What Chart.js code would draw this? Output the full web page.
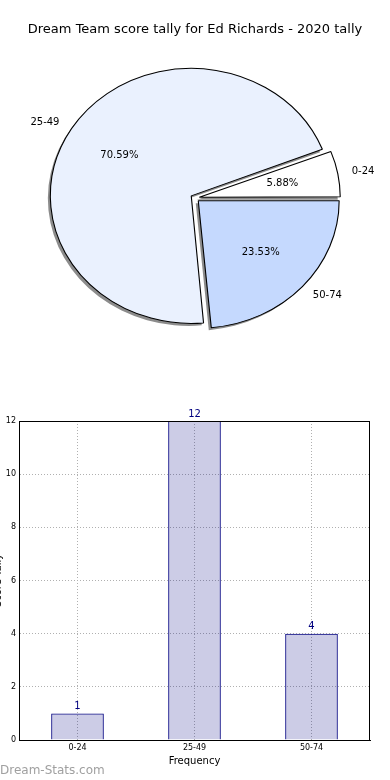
<!DOCTYPE html>
<html>
<head>
<meta charset="utf-8">
<script src="https://cdn.jsdelivr.net/npm/chart.js@4.4.1/dist/chart.umd.min.js"></script>
<style>
body { margin: 0; background: #fff; }
#wrap { position: relative; width: 390px; height: 780px; }
canvas { display: block; }
#marca { position: absolute; left: 0; top: 763px; font: 12px 'DejaVu Sans'; color: #a0a0a0; }
</style>
</head>
<body>
<div id="wrap">
  <canvas id="pizza" width="390" height="390"></canvas>
  <canvas id="barras" width="390" height="390"></canvas>
  <div id="marca">Dream-Stats.com</div>
</div>
<script>
// Dados do gráfico
const faixas = ['0-24', '25-49', '50-74'];
const contagens = [1, 12, 4];
const coresPizza = ['#ffffff', '#eaf1fe', '#c5d9fe'];
const ticksY = [0, 2, 4, 6, 8, 10, 12];

const total = contagens.reduce((a, b) => a + b, 0);
const porcentagens = contagens.map(v => (v / total * 100).toFixed(2) + '%');

// A pizza do matplotlib gira no sentido anti-horário, o Chart.js no horário
const ordem = [2, 1, 0];
const ESCALA_X = 1.105; // a pizza original é uma elipse
const RAIO = 127.5;
const DESLOC = 4;

// Estica a pizza na horizontal e desenha a sombra por baixo das fatias
const elipse = {
    id: 'elipse',
    afterDatasetUpdate(chart) {
        // o Chart.js aumenta o raio das fatias deslocadas, aqui volta tudo pro mesmo raio
        chart.getDatasetMeta(0).data.forEach(arco => {
            const circ = arco.endAngle - arco.startAngle;
            const fix = 1 - Math.sin(Math.min(Math.PI, circ));
            arco.outerRadius = RAIO - DESLOC * fix;
        });
    },
    beforeDatasetsDraw(chart) {
        const ctx = chart.ctx;
        const a = chart.chartArea;
        const cx = (a.left + a.right) / 2;
        ctx.save();
        ctx.translate(cx, 0);
        ctx.scale(ESCALA_X, 1);
        ctx.translate(-cx, 0);
        // sombra
        ctx.save();
        ctx.translate(-2.5 / ESCALA_X, 2.5);
        ctx.fillStyle = 'rgba(0,0,0,0.45)';
        chart.getDatasetMeta(0).data.forEach(arco => {
            const meio = (arco.startAngle + arco.endAngle) / 2;
            const x = arco.x + Math.cos(meio) * DESLOC;
            const y = arco.y + Math.sin(meio) * DESLOC;
            ctx.beginPath();
            ctx.moveTo(x, y);
            ctx.arc(x, y, RAIO, arco.startAngle, arco.endAngle);
            ctx.closePath();
            ctx.fill();
        });
        ctx.restore();
    },
    afterDatasetsDraw(chart) {
        chart.ctx.restore();
    }
};

const rotulosPizza = {
    id: 'rotulosPizza',
    afterDraw(chart) {
        const ctx = chart.ctx;
        const meta = chart.getDatasetMeta(0);
        ctx.save();
        ctx.font = '10px "DejaVu Sans"';
        ctx.fillStyle = '#000';
        ctx.textBaseline = 'middle';
        meta.data.forEach((arco, k) => {
            const i = ordem[k];
            const meio = (arco.startAngle + arco.endAngle) / 2;
            const c = Math.cos(meio), s = Math.sin(meio);
            const dPct = DESLOC + 0.6 * RAIO;
            const dRot = DESLOC + 1.1 * RAIO;
            ctx.textAlign = 'center';
            ctx.fillText(porcentagens[i], arco.x + c * dPct * ESCALA_X, arco.y + s * dPct);
            ctx.textAlign = c >= 0 ? 'left' : 'right';
            ctx.fillText(faixas[i], arco.x + c * dRot * ESCALA_X, arco.y + s * dRot);
        });
        ctx.restore();
    }
};

new Chart(document.getElementById('pizza'), {
    type: 'pie',
    data: {
        labels: ordem.map(i => faixas[i]),
        datasets: [{
            data: ordem.map(i => contagens[i]),
            backgroundColor: ordem.map(i => coresPizza[i]),
            borderColor: '#000',
            borderWidth: 1,
            offset: DESLOC * 4
        }]
    },
    options: {
        responsive: false,
        animation: false,
        radius: RAIO,
        rotation: 90,
        layout: { padding: { left: 0, right: 0, top: 0, bottom: 41.6 } },
        plugins: {
            legend: { display: false },
            tooltip: { enabled: false },
            title: {
                display: true,
                text: 'Dream Team score tally for Ed Richards - 2020 tally',
                color: '#000',
                font: { family: 'DejaVu Sans', size: 13, weight: 'normal' },
                padding: { top: 22, bottom: 10 }
            }
        }
    },
    plugins: [elipse, rotulosPizza]
});

// Moldura preta em volta da área do gráfico de barras
const moldura = {
    id: 'moldura',
    afterDatasetsDraw(chart) {
        const { ctx, chartArea: a } = chart;
        ctx.save();
        ctx.strokeStyle = '#000';
        ctx.lineWidth = 1;
        ctx.strokeRect(Math.round(a.left) + 0.5, Math.round(a.top) + 0.5,
            Math.round(a.right - a.left) - 1, Math.round(a.bottom - a.top));
        ctx.restore();
    }
};

const valoresBarras = {
    id: 'valoresBarras',
    afterDraw(chart) {
        const ctx = chart.ctx;
        const meta = chart.getDatasetMeta(0);
        ctx.save();
        ctx.font = '10px "DejaVu Sans"';
        ctx.fillStyle = '#000080';
        ctx.textAlign = 'center';
        ctx.textBaseline = 'bottom';
        meta.data.forEach((barra, i) => {
            ctx.fillText(String(contagens[i]), barra.x, barra.y - 2);
        });
        ctx.restore();
    }
};

new Chart(document.getElementById('barras'), {
    type: 'bar',
    data: {
        labels: faixas,
        datasets: [{
            data: contagens,
            backgroundColor: 'rgba(0,0,128,0.2)',
            borderColor: '#000080',
            borderWidth: 1,
            barPercentage: 0.45,
            categoryPercentage: 1
        }]
    },
    options: {
        responsive: false,
        animation: false,
        layout: { padding: { left: 0, right: 20, top: 31, bottom: 0 } },
        plugins: { legend: { display: false }, tooltip: { enabled: false } },
        scales: {
            x: {
                offset: true,
                grid: { offset: false, color: '#b0b0b0', lineWidth: 1, drawTicks: false },
                border: { display: true, color: '#000', dash: [1, 2] },
                ticks: { color: '#000', font: { family: 'DejaVu Sans', size: 8 }, padding: 3 },
                title: {
                    display: true, text: 'Frequency', color: '#000',
                    font: { family: 'DejaVu Sans', size: 10 },
                    padding: { top: 0, bottom: 13 }
                },
                afterFit: s => { s.height = 40; }
            },
            y: {
                min: ticksY[0],
                max: ticksY[ticksY.length - 1],
                ticks: { stepSize: ticksY[1] - ticksY[0], color: '#000', font: { family: 'DejaVu Sans', size: 8 }, padding: 3 },
                grid: { color: '#b0b0b0', lineWidth: 1, drawTicks: false },
                border: { display: true, color: '#000', dash: [1, 2] },
                title: {
                    display: true, text: 'Score Tally', color: '#000',
                    font: { family: 'DejaVu Sans', size: 10 },
                    padding: { top: -7.5, bottom: 0 }
                },
                afterFit: s => { s.width = 19; }
            }
        }
    },
    plugins: [moldura, valoresBarras]
});
</script>
</body>
</html>
